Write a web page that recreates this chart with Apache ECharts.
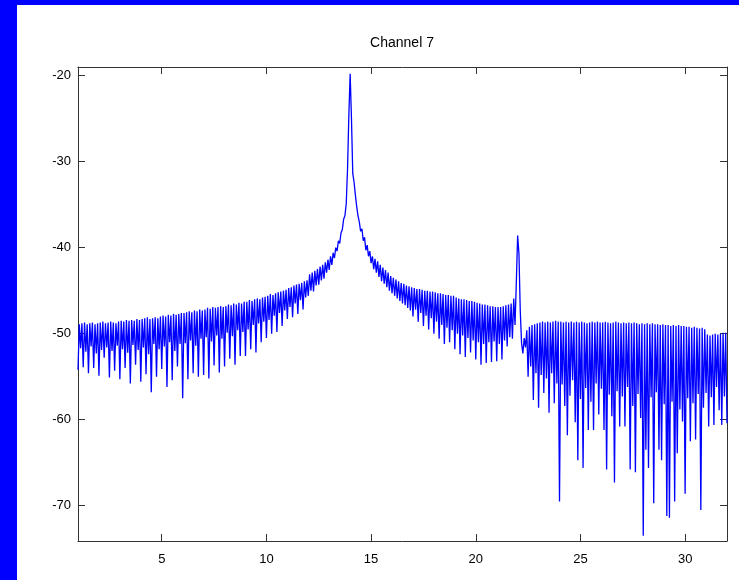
<!DOCTYPE html>
<html lang="en">
<head>
    <meta charset="UTF-8">
    <title>Channel 7</title>
    <script src="https://cdn.jsdelivr.net/npm/echarts@6/dist/echarts.min.js"></script>
    <style>
        html, body { margin: 0; padding: 0; background: #0000ff; overflow: hidden; }
        #main { position: absolute; left: 17px; top: 5px; width: 722px; height: 575px; background: #fff; }
    </style>
</head>
<body>
    <div id="main"></div>
<script>
    // frequency grid: first sample and spacing
    var xStart = 1;
    var xStep = 0.0625;

    // spectrum level (dB), 16 samples per unit (one row = one unit)
    var level = [
        -54.2, -48.9, -51.7, -48.8, -53.9, -48.7, -52.1, -48.9, -54.6, -48.8, -51.5, -48.7, -54.0, -48.9, -52.3, -48.8,
        -54.9, -48.7, -51.9, -48.6, -52.8, -48.8, -51.6, -48.7, -55.1, -48.6, -52.0, -48.7, -54.3, -48.8, -51.4, -48.6,
        -55.3, -48.5, -51.8, -48.6, -54.0, -48.4, -52.2, -48.5, -55.8, -48.4, -51.3, -48.5, -53.6, -48.3, -51.9, -48.4,
        -55.6, -48.3, -51.6, -48.2, -54.7, -48.1, -52.4, -48.3, -56.8, -48.2, -51.2, -48.1, -55.0, -48.2, -51.8, -48.0,
        -54.1, -47.9, -51.5, -48.0, -56.2, -47.8, -51.0, -47.9, -55.4, -47.7, -52.0, -47.8, -53.8, -47.7, -51.2, -47.6,
        -57.5, -47.6, -51.1, -47.5, -55.3, -47.4, -50.8, -47.5, -54.6, -47.3, -51.4, -47.4, -55.0, -47.2, -50.6, -47.3,
        -54.8, -47.2, -50.4, -47.0, -55.2, -47.1, -50.9, -46.9, -53.7, -47.0, -50.2, -46.9, -54.5, -46.8, -50.6, -46.9,
        -53.8, -46.8, -49.9, -46.6, -52.9, -46.7, -50.3, -46.5, -53.6, -46.6, -49.6, -46.4, -52.6, -46.5, -49.8, -46.3,
        -52.6, -46.3, -49.5, -46.1, -51.8, -46.2, -49.0, -46.0, -52.2, -45.9, -48.8, -46.0, -51.0, -45.8, -48.6, -45.7,
        -50.5, -45.6, -48.4, -45.4, -50.0, -45.5, -47.9, -45.3, -49.8, -45.2, -47.6, -45.1, -49.1, -45.0, -47.3, -44.9,
        -48.3, -44.7, -46.9, -44.6, -48.1, -44.4, -46.5, -44.3, -47.7, -44.2, -46.1, -44.1, -47.2, -43.9, -45.8, -43.8,
        -45.6, -43.1, -45.0, -42.9, -45.1, -42.7, -44.4, -42.5, -44.3, -42.2, -43.8, -42.0, -43.6, -41.7, -42.9, -41.4,
        -42.6, -41.0, -42.0, -40.6, -41.2, -40.0, -40.4, -39.2, -39.5, -38.3, -37.9, -36.7, -36.3, -34.9, -30.8, -24.6,
        -19.8, -25.0, -31.4, -32.4, -33.9, -35.2, -36.3, -37.0, -38.1, -37.8, -39.2, -38.8, -40.3, -39.7, -41.0, -40.4,
        -41.8, -41.0, -42.5, -41.3, -42.9, -41.6, -43.4, -42.0, -43.9, -42.3, -44.2, -42.6, -44.6, -42.9, -45.0, -43.3,
        -45.3, -43.5, -45.6, -43.7, -45.9, -43.9, -46.2, -44.1, -46.5, -44.2, -46.7, -44.4, -47.0, -44.5, -47.3, -44.6,
        -48.0, -44.7, -47.2, -44.8, -48.6, -44.8, -47.6, -44.9, -49.1, -45.0, -47.9, -45.0, -49.5, -45.1, -48.2, -45.1,
        -50.0, -45.2, -48.6, -45.3, -50.6, -45.3, -49.0, -45.4, -51.2, -45.5, -49.3, -45.5, -51.0, -45.6, -49.6, -45.6,
        -51.8, -45.8, -50.0, -45.9, -52.4, -46.0, -50.2, -46.0, -52.7, -46.1, -50.5, -46.2, -52.2, -46.2, -50.8, -46.3,
        -53.0, -46.4, -51.0, -46.5, -53.6, -46.6, -51.2, -46.6, -53.4, -46.7, -51.0, -46.8, -53.3, -46.8, -50.9, -46.9,
        -53.2, -46.9, -51.2, -46.9, -53.0, -46.8, -50.8, -46.7, -51.5, -46.6, -50.4, -46.5, -50.6, -45.9, -49.0, -44.0,
        -38.6, -40.7, -47.3, -51.1, -52.3, -50.5, -51.6, -49.6, -55.0, -49.2, -53.8, -49.0, -57.7, -48.9, -54.6, -48.8,
        -58.6, -48.7, -54.8, -48.6, -56.9, -48.7, -55.2, -48.6, -59.2, -48.7, -54.6, -48.6, -58.1, -48.5, -55.8, -48.6,
        -69.5, -48.6, -55.9, -48.7, -58.4, -48.6, -61.8, -48.7, -57.2, -48.6, -55.4, -48.7, -60.3, -48.6, -64.7, -48.7,
        -57.6, -48.6, -65.6, -48.7, -56.3, -48.8, -61.2, -48.7, -57.9, -48.6, -61.2, -48.7, -55.8, -48.6, -59.4, -48.7,
        -56.4, -48.7, -61.2, -48.6, -65.8, -48.7, -57.1, -48.8, -59.6, -48.7, -67.3, -48.6, -56.7, -48.7, -60.8, -48.8,
        -57.3, -48.7, -60.8, -48.8, -56.2, -48.7, -65.8, -48.8, -58.4, -48.7, -66.1, -48.8, -57.0, -48.9, -59.8, -48.8,
        -73.5, -48.9, -63.5, -48.8, -65.6, -48.9, -57.4, -48.8, -69.7, -48.9, -56.8, -48.9, -63.5, -49.0, -64.7, -48.9,
        -58.2, -49.0, -71.2, -49.0, -71.4, -49.1, -57.9, -49.0, -69.5, -49.1, -63.9, -49.0, -58.8, -49.1, -60.2, -49.1,
        -68.6, -49.2, -57.5, -49.2, -62.5, -49.3, -58.1, -49.2, -62.3, -49.3, -57.0, -49.4, -70.5, -49.3, -58.6, -49.5,
        -56.9, -50.1, -60.8, -50.2, -57.4, -50.1, -60.6, -50.0, -56.2, -50.1, -58.9, -50.0, -60.6, -49.9, -57.3, -49.9,
        -60.4
    ];

    var xTicks = [5, 10, 15, 20, 25, 30];
    var yTicks = [-70, -60, -50, -40, -30, -20];

    var pts = [];
    for (var i = 0; i < level.length; i++) {
        pts.push([xStart + i * xStep, level[i]]);
    }

    var axisColor = '#333';
    var font = '"Liberation Sans", Arial, sans-serif';

    function xAx(pos, labels) {
        return {
            type: 'value', position: pos, min: 1, max: 32,
            splitLine: { show: false },
            axisLine: { show: true, onZero: false, lineStyle: { color: axisColor, width: 1 } },
            axisTick: { show: true, inside: true, length: 7, customValues: xTicks, lineStyle: { color: axisColor } },
            axisLabel: { show: labels, customValues: xTicks, margin: 12, color: '#000', fontSize: 13, fontFamily: font }
        };
    }
    function yAx(pos, labels) {
        return {
            type: 'value', position: pos, min: -74.1, max: -19,
            splitLine: { show: false },
            axisLine: { show: true, onZero: false, lineStyle: { color: axisColor, width: 1 } },
            axisTick: { show: true, inside: true, length: 7, customValues: yTicks, lineStyle: { color: axisColor } },
            axisLabel: { show: labels, customValues: yTicks, margin: 7, color: '#000', fontSize: 13, fontFamily: font }
        };
    }

    var myChart = echarts.init(document.getElementById('main'));
    var option = {
        animation: false,
        backgroundColor: '#fff',
        grid: { left: 61, right: 12, top: 62, bottom: 39, containLabel: false },
        graphic: [{
            type: 'text', x: 385, y: 38,
            style: { text: 'Channel 7', fill: '#000', fontSize: 14, fontFamily: font, align: 'center', verticalAlign: 'middle' }
        }],
        xAxis: [xAx('bottom', true), xAx('top', false)],
        yAxis: [yAx('left', true), yAx('right', false)],
        series: [{
            type: 'line',
            data: pts,
            showSymbol: false,
            lineStyle: { color: '#0000ff', width: 1.3 },
            itemStyle: { color: '#0000ff' }
        }]
    };
    myChart.setOption(option);
</script>
</body>
</html>
